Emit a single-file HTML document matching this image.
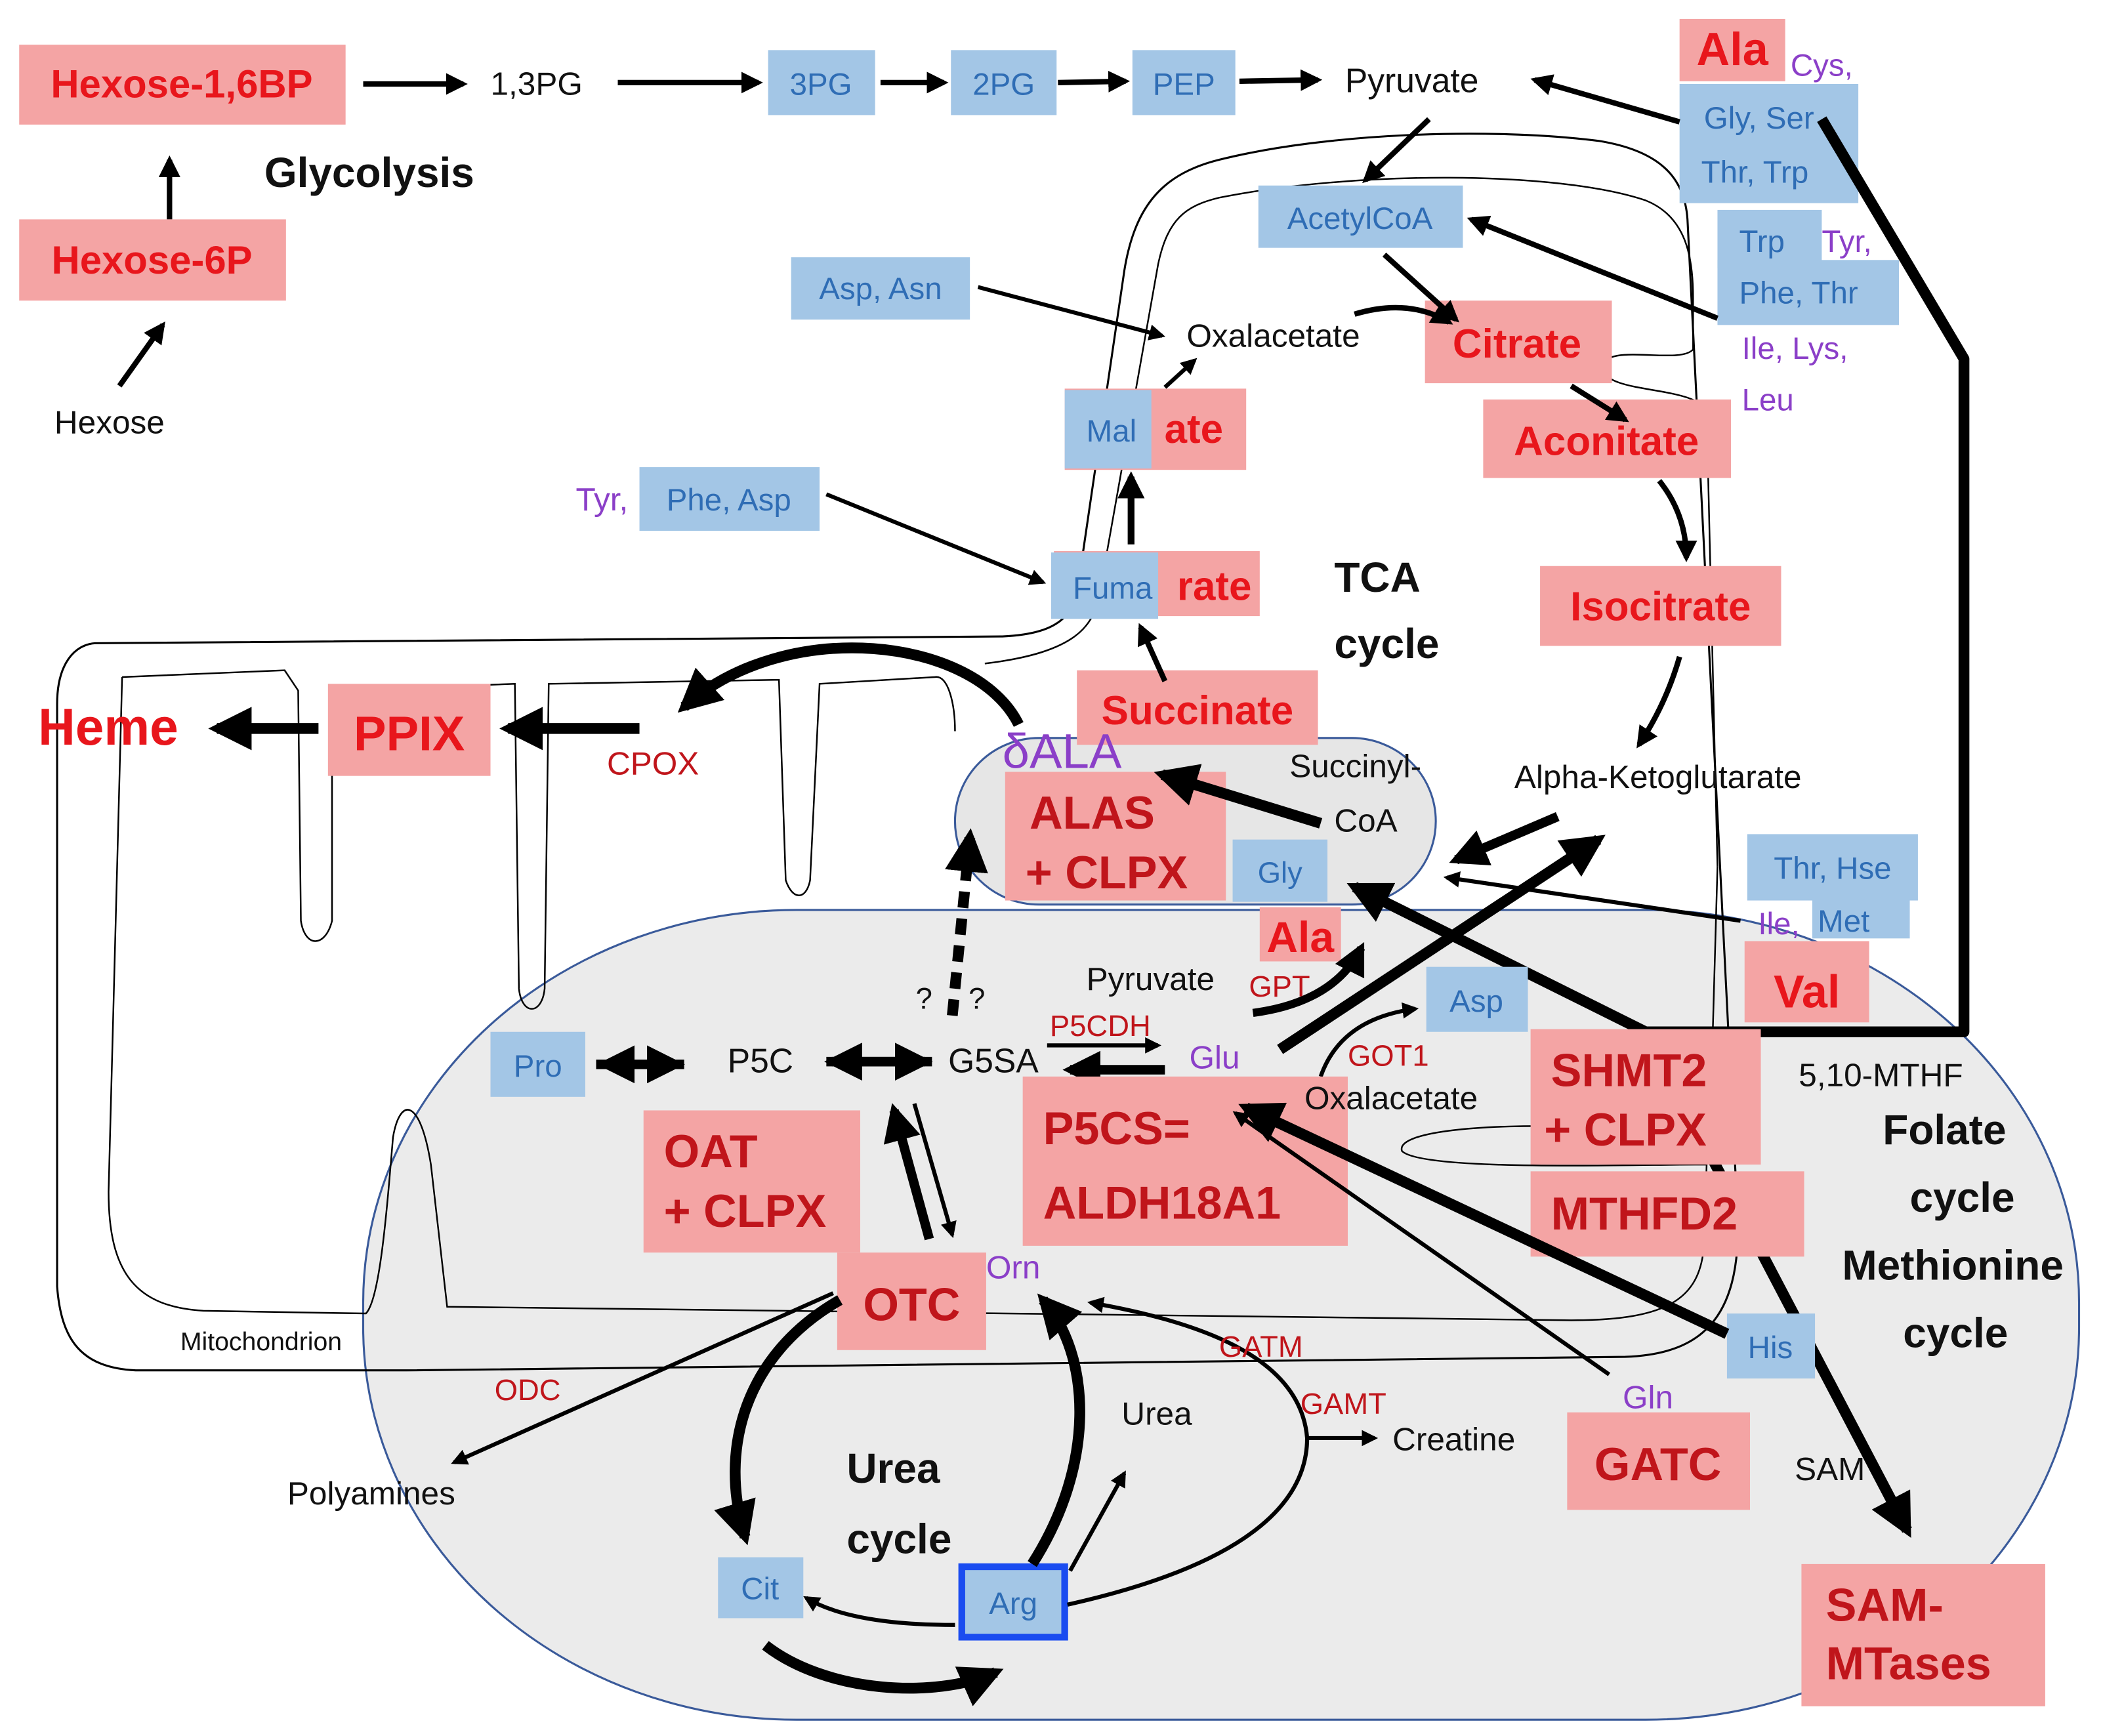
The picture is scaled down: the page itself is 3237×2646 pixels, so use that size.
<!DOCTYPE html>
<html><head><meta charset="utf-8"><style>
html,body{margin:0;padding:0;background:#fff;}
svg{display:block;}
text{font-family:"Liberation Sans",sans-serif;}
.pk{fill:#f4a4a4;}
.bl{fill:#a3c6e6;}
.r{fill:#e8161c;font-weight:bold;}
.dr{fill:#c0151b;font-weight:bold;}
.b{fill:#2f6db5;}
.p{fill:#8b3fc8;}
.k{fill:#111;}
.ln{stroke:#000;fill:none;}
</style></head><body>
<svg width="3237" height="2646" viewBox="0 0 1568 1282" xmlns="http://www.w3.org/2000/svg">
<defs>
<marker id="a" viewBox="0 0 10 10" refX="8" refY="5" markerWidth="4" markerHeight="4" orient="auto"><path d="M0,0L10,5L0,10z" fill="#000"/></marker>
</defs>
<!-- cytoplasm region -->
<rect x="268" y="672" width="1267" height="598" rx="320" ry="290" fill="#ebebeb" stroke="#3a5a9a" stroke-width="1.5"/>
<!-- mitochondrion outer membrane -->
<path class="ln" stroke-width="1.5" d="M70,475 L740,470 C785,468 795,452 797,425 L830,200 C838,150 860,128 900,118 C980,98 1100,94 1180,104 C1230,112 1245,135 1246,165 L1283,900 C1285,975 1255,1000 1200,1002 L300,1012 L100,1012 C60,1010 45,990 42,950 L42,520 C42,490 55,476 70,475 Z"/>
<!-- inner membrane -->
<path class="ln" stroke-width="1.2" d="M90,500 L210,495 L220,510 L222,680 C225,700 240,700 245,680 L245,510 L380,505 L383,730 C385,750 400,750 402,730 L405,505 L575,502 L580,650 C585,665 595,665 598,650 L605,505 L690,500 C700,498 705,520 705,540"/>
<path class="ln" stroke-width="1.2" d="M727,490 C795,482 808,462 812,437 L855,195 C862,162 875,152 900,146 C1000,126 1150,126 1215,148 C1245,160 1250,190 1250,220 L1250,258 C1240,270 1183,252 1183,272 C1186,292 1255,284 1260,305 L1268,640"/>
<path class="ln" stroke="#555" stroke-width="1.2" d="M90,500 L80,880 C80,940 100,965 150,968 L270,970 C280,960 285,900 290,840 C295,810 310,810 318,860 L330,965 L1160,975 C1230,975 1255,960 1258,920 L1260,860 C1200,860 1050,865 1035,850 C1030,835 1100,830 1160,832"/>
<path class="ln" stroke-width="1.2" d="M1268,640 L1262,850"/>
<text x="133" y="997" font-size="19" class="k">Mitochondrion</text>
<!-- inner pill -->
<rect x="705" y="545" width="355" height="123" rx="62" fill="#e6e6e6" stroke="#3a5a9a" stroke-width="1.5"/>

<!-- glycolysis -->
<rect class="pk" x="14" y="33" width="241" height="59"/>
<text x="134" y="72" font-size="29" class="r" text-anchor="middle">Hexose-1,6BP</text>
<line class="ln" stroke-width="4" x1="268" y1="62" x2="342" y2="62" marker-end="url(#a)"/>
<text x="362" y="70" font-size="24" class="k">1,3PG</text>
<line class="ln" stroke-width="4" x1="456" y1="61" x2="560" y2="61" marker-end="url(#a)"/>
<rect class="bl" x="567" y="37" width="79" height="48"/><text x="606" y="70" font-size="23" class="b" text-anchor="middle">3PG</text>
<line class="ln" stroke-width="4" x1="650" y1="61" x2="697" y2="61" marker-end="url(#a)"/>
<rect class="bl" x="702" y="37" width="78" height="48"/><text x="741" y="70" font-size="23" class="b" text-anchor="middle">2PG</text>
<line class="ln" stroke-width="4" x1="781" y1="61" x2="831" y2="60" marker-end="url(#a)"/>
<rect class="bl" x="836" y="37" width="76" height="48"/><text x="874" y="70" font-size="23" class="b" text-anchor="middle">PEP</text>
<line class="ln" stroke-width="4" x1="915" y1="60" x2="973" y2="59" marker-end="url(#a)"/>
<text x="993" y="68" font-size="25" class="k">Pyruvate</text>
<text x="195" y="138" font-size="31" font-weight="bold" class="k">Glycolysis</text>
<line class="ln" stroke-width="4" x1="125" y1="162" x2="125" y2="118" marker-end="url(#a)"/>
<rect class="pk" x="14" y="162" width="197" height="60"/>
<text x="112" y="202" font-size="29" class="r" text-anchor="middle">Hexose-6P</text>
<line class="ln" stroke-width="4" x1="88" y1="285" x2="120" y2="240" marker-end="url(#a)"/>
<text x="40" y="320" font-size="24" class="k">Hexose</text>

<!-- top right amino acids -->
<rect class="pk" x="1240" y="14" width="78" height="46"/><text x="1279" y="48" font-size="34" class="r" text-anchor="middle">Ala</text>
<text x="1322" y="56" font-size="23" class="p">Cys,</text>
<rect class="bl" x="1240" y="62" width="132" height="88"/>
<text x="1258" y="95" font-size="23" class="b">Gly,  Ser</text>
<text x="1256" y="135" font-size="23" class="b">Thr, Trp</text>
<line class="ln" stroke-width="4" x1="1240" y1="90" x2="1133" y2="59" marker-end="url(#a)"/>
<line class="ln" stroke-width="4" x1="1055" y1="88" x2="1008" y2="133" marker-end="url(#a)"/>
<rect class="bl" x="929" y="137" width="151" height="46"/><text x="1004" y="169" font-size="23" class="b" text-anchor="middle">AcetylCoA</text>
<rect class="bl" x="1268" y="155" width="77" height="43"/><text x="1284" y="186" font-size="23" class="b">Trp</text>
<text x="1345" y="186" font-size="23" class="p">Tyr,</text>
<rect class="bl" x="1268" y="192" width="134" height="48"/><text x="1284" y="224" font-size="23" class="b">Phe, Thr</text>
<text x="1286" y="265" font-size="23" class="p">Ile, Lys,</text>
<text x="1286" y="303" font-size="23" class="p">Leu</text>
<line class="ln" stroke-width="4" x1="1268" y1="235" x2="1086" y2="162" marker-end="url(#a)"/>

<!-- TCA -->
<rect class="bl" x="584" y="190" width="132" height="46"/><text x="650" y="221" font-size="23" class="b" text-anchor="middle">Asp, Asn</text>
<line class="ln" stroke-width="3" x1="722" y1="212" x2="858" y2="248" marker-end="url(#a)"/>
<text x="876" y="256" font-size="24" class="k">Oxalacetate</text>
<rect class="pk" x="1052" y="222" width="138" height="61"/><text x="1120" y="264" font-size="30" class="r" text-anchor="middle">Citrate</text>
<line class="ln" stroke-width="4" x1="1022" y1="188" x2="1075" y2="236" marker-end="url(#a)"/>
<path class="ln" stroke-width="4" d="M1000,232 Q1040,220 1070,238" marker-end="url(#a)"/>
<rect class="pk" x="1095" y="295" width="183" height="58"/><text x="1186" y="336" font-size="30" class="r" text-anchor="middle">Aconitate</text>
<line class="ln" stroke-width="4" x1="1160" y1="285" x2="1200" y2="310" marker-end="url(#a)"/>
<rect class="pk" x="1137" y="418" width="178" height="59"/><text x="1226" y="458" font-size="30" class="r" text-anchor="middle">Isocitrate</text>
<path class="ln" stroke-width="4" d="M1225,355 Q1245,380 1245,412" marker-end="url(#a)"/>
<path class="ln" stroke-width="4" d="M1240,485 Q1230,520 1210,550" marker-end="url(#a)"/>
<text x="1118" y="582" font-size="24" class="k">Alpha-Ketoglutarate</text>

<rect class="pk" x="786" y="287" width="134" height="60"/><text x="903" y="327" font-size="30" class="r" text-anchor="end">ate</text>
<rect class="bl" x="786" y="288" width="64" height="58"/><text x="802" y="326" font-size="23" class="b">Mal</text>
<line class="ln" stroke-width="3" x1="860" y1="286" x2="882" y2="266" marker-end="url(#a)"/>
<text x="425" y="377" font-size="24" class="p">Tyr,</text>
<rect class="bl" x="472" y="345" width="133" height="47"/><text x="538" y="377" font-size="23" class="b" text-anchor="middle">Phe, Asp</text>
<line class="ln" stroke-width="3" x1="610" y1="365" x2="770" y2="430" marker-end="url(#a)"/>
<rect class="pk" x="778" y="407" width="152" height="48"/><text x="924" y="443" font-size="30" class="r" text-anchor="end">rate</text>
<rect class="bl" x="776" y="408" width="79" height="49"/><text x="792" y="442" font-size="23" class="b">Fuma</text>
<line class="ln" stroke-width="5" x1="835" y1="402" x2="835" y2="352" marker-end="url(#a)"/>
<text x="985" y="437" font-size="31" font-weight="bold" class="k">TCA</text>
<text x="985" y="486" font-size="31" font-weight="bold" class="k">cycle</text>
<rect class="pk" x="795" y="495" width="178" height="55"/><text x="884" y="535" font-size="30" class="r" text-anchor="middle">Succinate</text>
<line class="ln" stroke-width="4" x1="860" y1="503" x2="842" y2="463" marker-end="url(#a)"/>

<!-- heme -->
<line class="ln" stroke-width="8" x1="235" y1="538" x2="160" y2="538" marker-end="url(#a)"/>
<text x="28" y="550" font-size="38" class="r">Heme</text>
<rect class="pk" x="242" y="505" width="120" height="68"/><text x="302" y="554" font-size="36" class="r" text-anchor="middle">PPIX</text>
<line class="ln" stroke-width="8" x1="472" y1="538" x2="375" y2="538" marker-end="url(#a)"/>
<text x="448" y="572" font-size="24" fill="#c0151b">CPOX</text>
<path class="ln" stroke-width="8" d="M752,535 C720,470 580,455 505,522" marker-end="url(#a)"/>
<text x="740" y="567" font-size="36" class="p">δALA</text>
<rect class="pk" x="742" y="570" width="163" height="95"/>
<text x="760" y="612" font-size="34" class="dr">ALAS</text>
<text x="757" y="656" font-size="34" class="dr">+ CLPX</text>
<text x="952" y="574" font-size="24" class="k">Succinyl-</text>
<text x="985" y="614" font-size="24" class="k">CoA</text>
<line class="ln" stroke-width="8" x1="975" y1="608" x2="858" y2="572" marker-end="url(#a)"/>
<rect class="bl" x="910" y="620" width="70" height="46"/><text x="945" y="652" font-size="22" class="b" text-anchor="middle">Gly</text>
<line class="ln" stroke-width="7" x1="1150" y1="603" x2="1075" y2="635" marker-end="url(#a)"/>
<rect class="bl" x="1290" y="616" width="126" height="49"/><text x="1353" y="649" font-size="23" class="b" text-anchor="middle">Thr, Hse</text>
<text x="1298" y="690" font-size="23" class="p">Ile,</text>
<rect class="bl" x="1338" y="664" width="72" height="29"/><text x="1342" y="688" font-size="23" class="b">Met</text>
<line class="ln" stroke-width="3" x1="1285" y1="680" x2="1068" y2="648" marker-end="url(#a)"/>
<rect class="pk" x="930" y="670" width="60" height="40"/><text x="960" y="703" font-size="32" class="r" text-anchor="middle">Ala</text>
<rect class="pk" x="1288" y="695" width="92" height="60"/><text x="1334" y="744" font-size="34" class="r" text-anchor="middle">Val</text>

<!-- folate big line -->
<path class="ln" stroke-width="8" stroke-linejoin="round" d="M1345,88 L1450,265 L1450,762 L1215,762"/>
<line class="ln" stroke-width="8" x1="1215" y1="762" x2="1408" y2="1130" marker-end="url(#a)"/>
<line class="ln" stroke-width="8" x1="1215" y1="762" x2="1000" y2="655" marker-end="url(#a)"/>
<line class="ln" stroke-width="8" x1="945" y1="775" x2="1180" y2="620" marker-end="url(#a)"/>

<text x="802" y="731" font-size="24" class="k">Pyruvate</text>
<text x="922" y="736" font-size="22" fill="#c0151b">GPT</text>
<path class="ln" stroke-width="6" d="M925,748 Q985,740 1005,700" marker-end="url(#a)"/>
<rect class="bl" x="1053" y="714" width="75" height="48"/><text x="1090" y="747" font-size="23" class="b" text-anchor="middle">Asp</text>
<text x="995" y="787" font-size="22" fill="#c0151b">GOT1</text>
<path class="ln" stroke-width="3" d="M975,795 Q990,752 1045,745" marker-end="url(#a)"/>
<text x="775" y="765" font-size="22" fill="#c0151b">P5CDH</text>
<text x="878" y="789" font-size="24" class="p">Glu</text>
<line class="ln" stroke-width="3" x1="773" y1="772" x2="855" y2="772" marker-end="url(#a)"/>
<line class="ln" stroke-width="7" x1="860" y1="790" x2="790" y2="790" marker-end="url(#a)"/>

<rect class="bl" x="362" y="762" width="70" height="48"/><text x="397" y="795" font-size="23" class="b" text-anchor="middle">Pro</text>
<line class="ln" stroke-width="7" x1="440" y1="786" x2="500" y2="786" marker-end="url(#a)"/>
<line class="ln" stroke-width="7" x1="505" y1="786" x2="446" y2="786" marker-end="url(#a)"/>
<text x="537" y="792" font-size="25" class="k">P5C</text>
<line class="ln" stroke-width="7" x1="610" y1="784" x2="683" y2="784" marker-end="url(#a)"/>
<line class="ln" stroke-width="7" x1="688" y1="784" x2="614" y2="784" marker-end="url(#a)"/>
<text x="700" y="792" font-size="25" class="k">G5SA</text>
<text x="676" y="745" font-size="22" class="k">?</text><text x="715" y="745" font-size="22" class="k">?</text>
<line class="ln" stroke-width="8" stroke-dasharray="12,8" x1="703" y1="750" x2="716" y2="618" marker-end="url(#a)"/>

<rect class="pk" x="475" y="820" width="160" height="105"/>
<text x="490" y="862" font-size="34" class="dr">OAT</text>
<text x="490" y="906" font-size="34" class="dr">+ CLPX</text>
<rect class="pk" x="755" y="795" width="240" height="125"/>
<text x="770" y="845" font-size="34" class="dr">P5CS=</text>
<text x="770" y="900" font-size="34" class="dr">ALDH18A1</text>
<text x="963" y="819" font-size="24" class="k">Oxalacetate</text>
<line class="ln" stroke-width="7" x1="686" y1="915" x2="660" y2="820" marker-end="url(#a)"/>
<line class="ln" stroke-width="3" x1="675" y1="815" x2="703" y2="912" marker-end="url(#a)"/>

<rect class="pk" x="1130" y="760" width="170" height="100"/>
<text x="1145" y="802" font-size="34" class="dr">SHMT2</text>
<text x="1140" y="846" font-size="34" class="dr">+ CLPX</text>
<rect class="pk" x="1130" y="865" width="202" height="63"/>
<text x="1145" y="908" font-size="34" class="dr">MTHFD2</text>
<text x="1328" y="802" font-size="24" class="k">5,10-MTHF</text>
<text x="1390" y="845" font-size="31" font-weight="bold" class="k">Folate</text>
<text x="1410" y="895" font-size="31" font-weight="bold" class="k">cycle</text>
<text x="1360" y="945" font-size="31" font-weight="bold" class="k">Methionine</text>
<text x="1405" y="995" font-size="31" font-weight="bold" class="k">cycle</text>

<rect class="bl" x="1275" y="970" width="65" height="48"/><text x="1307" y="1003" font-size="23" class="b" text-anchor="middle">His</text>
<line class="ln" stroke-width="8" x1="1275" y1="985" x2="920" y2="818" marker-end="url(#a)"/>
<text x="1198" y="1040" font-size="24" class="p">Gln</text>
<line class="ln" stroke-width="3" x1="1188" y1="1015" x2="912" y2="822" marker-end="url(#a)"/>

<!-- urea -->
<rect class="pk" x="618" y="925" width="110" height="72"/><text x="673" y="975" font-size="34" class="dr" text-anchor="middle">OTC</text>
<text x="728" y="944" font-size="24" class="p">Orn</text>
<text x="365" y="1034" font-size="22" fill="#c0151b">ODC</text>
<text x="212" y="1111" font-size="24" class="k">Polyamines</text>
<line class="ln" stroke-width="3" x1="615" y1="955" x2="335" y2="1080" marker-end="url(#a)"/>
<text x="625" y="1095" font-size="31" font-weight="bold" class="k">Urea</text>
<text x="625" y="1147" font-size="31" font-weight="bold" class="k">cycle</text>
<text x="828" y="1052" font-size="24" class="k">Urea</text>
<rect class="bl" x="530" y="1150" width="63" height="45"/><text x="561" y="1181" font-size="23" class="b" text-anchor="middle">Cit</text>
<rect x="710" y="1157" width="76" height="52" fill="#a3c6e6" stroke="#1a4cf0" stroke-width="5"/><text x="748" y="1192" font-size="23" class="b" text-anchor="middle">Arg</text>
<path class="ln" stroke-width="8" d="M620,960 C550,1000 530,1070 550,1135" marker-end="url(#a)"/>
<path class="ln" stroke-width="8" d="M762,1155 C810,1080 805,1000 770,960" marker-end="url(#a)"/>
<path class="ln" stroke-width="8" d="M565,1215 C610,1250 690,1255 735,1235" marker-end="url(#a)"/>
<path class="ln" stroke-width="3" d="M705,1200 C660,1200 620,1195 595,1180" marker-end="url(#a)"/>
<line class="ln" stroke-width="3" x1="790" y1="1160" x2="830" y2="1088" marker-end="url(#a)"/>
<path class="ln" stroke-width="3" d="M788,1185 C900,1160 965,1120 965,1062 C960,1000 880,975 805,962" marker-end="url(#a)"/>
<line class="ln" stroke-width="3" x1="965" y1="1062" x2="1015" y2="1062" marker-end="url(#a)"/>
<text x="900" y="1002" font-size="22" fill="#c0151b">GATM</text>
<text x="960" y="1044" font-size="22" fill="#c0151b">GAMT</text>
<text x="1028" y="1071" font-size="24" class="k">Creatine</text>
<rect class="pk" x="1157" y="1043" width="135" height="72"/><text x="1224" y="1093" font-size="34" class="dr" text-anchor="middle">GATC</text>
<text x="1325" y="1093" font-size="24" class="k">SAM</text>
<rect class="pk" x="1330" y="1155" width="180" height="105"/>
<text x="1348" y="1197" font-size="34" class="dr">SAM-</text>
<text x="1348" y="1240" font-size="34" class="dr">MTases</text>
</svg>
</body></html>
